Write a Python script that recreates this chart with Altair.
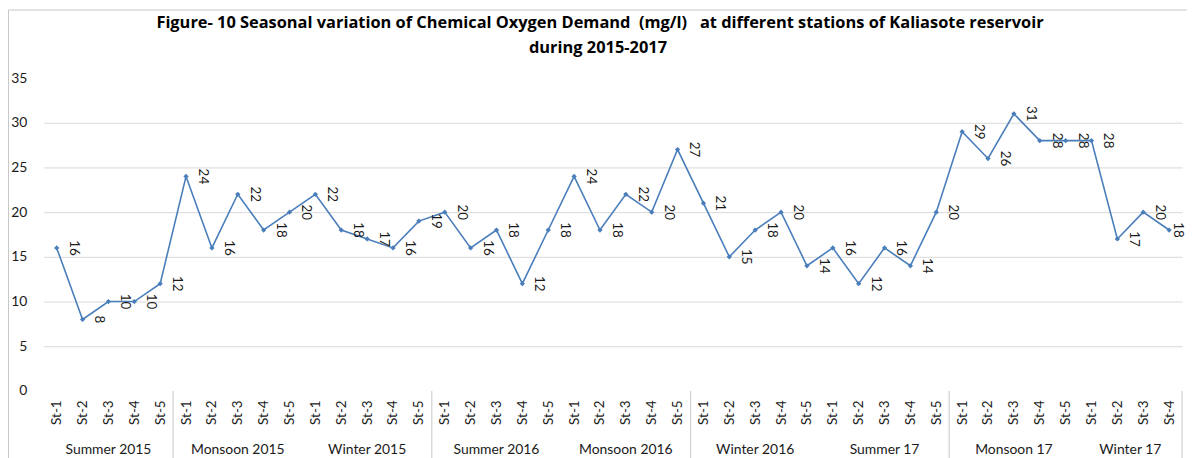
import json
import altair as alt
import pandas as pd

# ---- data ----
seasons = ["Summer 2015", "Monsoon 2015", "Winter 2015", "Summer 2016", "Monsoon 2016",
           "Winter 2016", "Summer 17", "Monsoon 17", "Winter 17"]
stations_per_season = [5, 5, 5, 5, 5, 5, 5, 5, 4]
station_names = ["St-1", "St-2", "St-3", "St-4", "St-5"]
cod = [16, 8, 10, 10, 12,
       24, 16, 22, 18, 20,
       22, 18, 17, 16, 19,
       20, 16, 18, 12, 18,
       24, 18, 22, 20, 27,
       21, 15, 18, 20, 14,
       16, 12, 16, 14, 20,
       29, 26, 31, 28, 28,
       28, 17, 20, 18]
# seasons after which the category axis shows a divider line
divider_after = [0, 2, 4, 6, 8]
y_ticks = [0, 5, 10, 15, 20, 25, 30, 35]

NB = "\u00a0"
title_lines = ["Figure- 10 Seasonal variation of Chemical Oxygen Demand " + NB + "(mg/l) " + NB + NB + "at different stations of Kaliasote reservoir",
               "during 2015-2017"]

# ---- tables ----
rows, tick_labels, season_rows, dividers = [], [], [], []
i = 0
for s, n in zip(seasons, stations_per_season):
    start = i
    for k in range(n):
        rows.append({"idx": i, "season": s, "station": station_names[k], "cod": cod[i]})
        tick_labels.append(station_names[k])
        i += 1
    season_rows.append({"season": s, "center": (start + i - 1) / 2})
for j in divider_after:
    dividers.append({"pos": sum(stations_per_season[: j + 1]) - 0.5})

df = pd.DataFrame(rows)
sdf = pd.DataFrame(season_rows)
ddf = pd.DataFrame(dividers)
tdf = pd.DataFrame({"line": [0, 1], "text": title_lines})
n_total = len(cod)

W, H = 1146, 315
FONT = "Lato"
BLUE = "#4A7EBB"
TXT = "#1a1a1a"

xscale = alt.Scale(domain=[-0.5, n_total - 0.5], nice=False, zero=False)
yscale = alt.Scale(domain=[0, 35], nice=False)
xaxis = alt.Axis(values=list(range(n_total)),
                 labelExpr=json.dumps(tick_labels) + "[datum.value]",
                 labelAngle=270, labelFontSize=13.5, labelFont=FONT, labelColor=TXT,
                 labelPadding=9, ticks=False, domain=False, grid=False, title=None,
                 labelOverlap=False, labelFlush=False, labelBound=False)
yaxis = alt.Axis(values=y_ticks, labelFontSize=14, labelFont=FONT, labelColor=TXT,
                 labelPadding=17, ticks=False, domain=False, title=None,
                 gridColor="#d9d9d9", gridWidth=1,
                 gridOpacity={"condition": {"test": "datum.value == 0 || datum.value == 35", "value": 0}, "value": 1})

X = alt.X("idx:Q", scale=xscale, axis=xaxis)
Y = alt.Y("cod:Q", scale=yscale, axis=yaxis)

base = alt.Chart(df)

line = base.mark_line(color=BLUE, strokeWidth=1.6).encode(x=X, y=Y)

pts = base.mark_point(shape="diamond", filled=True, size=28, color=BLUE, opacity=1).encode(x=X, y=Y)

labels = base.transform_filter(f"datum.idx < {n_total - 1}").mark_text(
    angle=90, dy=-17, align="center", baseline="middle",
    fontSize=13.5, font=FONT, color=TXT).encode(x=X, y=Y, text="cod:Q")
last_label = base.transform_filter(f"datum.idx == {n_total - 1}").mark_text(
    angle=90, dy=-9, align="center", baseline="middle",
    fontSize=13.5, font=FONT, color=TXT).encode(x=X, y=Y, text="cod:Q")

season_text = alt.Chart(sdf).mark_text(fontSize=14, font=FONT, color=TXT, baseline="middle").encode(
    x=alt.X("center:Q", scale=xscale, axis=xaxis), y=alt.value(H + 59), text="season:N")

div_rules = alt.Chart(ddf).mark_rule(color="#d0d0d0", strokeWidth=1.2).encode(
    x=alt.X("pos:Q", scale=xscale, axis=xaxis), y=alt.value(H), y2=alt.value(H + 90))

title_style = dict(fontSize=16.5, font="Open Sans", fontWeight="bold", color="#000000",
                   baseline="middle", align="center")
title1 = alt.Chart(tdf).transform_filter("datum.line == 0").mark_text(**title_style).encode(
    x=alt.value(560), y=alt.value(-55), text="text:N")
title2 = alt.Chart(tdf).transform_filter("datum.line == 1").mark_text(**title_style).encode(
    x=alt.value(558), y=alt.value(-30), text="text:N")

frame_df = pd.DataFrame({"k": [0]})
frame_left = alt.Chart(frame_df).mark_rule(color="#c8c8c8", strokeWidth=1).encode(
    x=alt.value(-35.5), y=alt.value(-68.5), y2=alt.value(H + 90))
frame_top = alt.Chart(frame_df).mark_rule(color="#c8c8c8", strokeWidth=1).encode(
    x=alt.value(-35.5), x2=alt.value(W + 10), y=alt.value(-68.5))

chart = alt.layer(frame_left, frame_top, div_rules, line, pts, labels, last_label,
                  season_text, title1, title2).properties(
    width=W, height=H,
    autosize=alt.AutoSizeParams(type="none"),
    padding={"left": 36, "top": 69, "right": 5, "bottom": 66},
).configure_view(stroke=None).configure_axis(labelOverlap=False)

chart.save("out.html", embed_options={"renderer": "svg", "actions": False})
